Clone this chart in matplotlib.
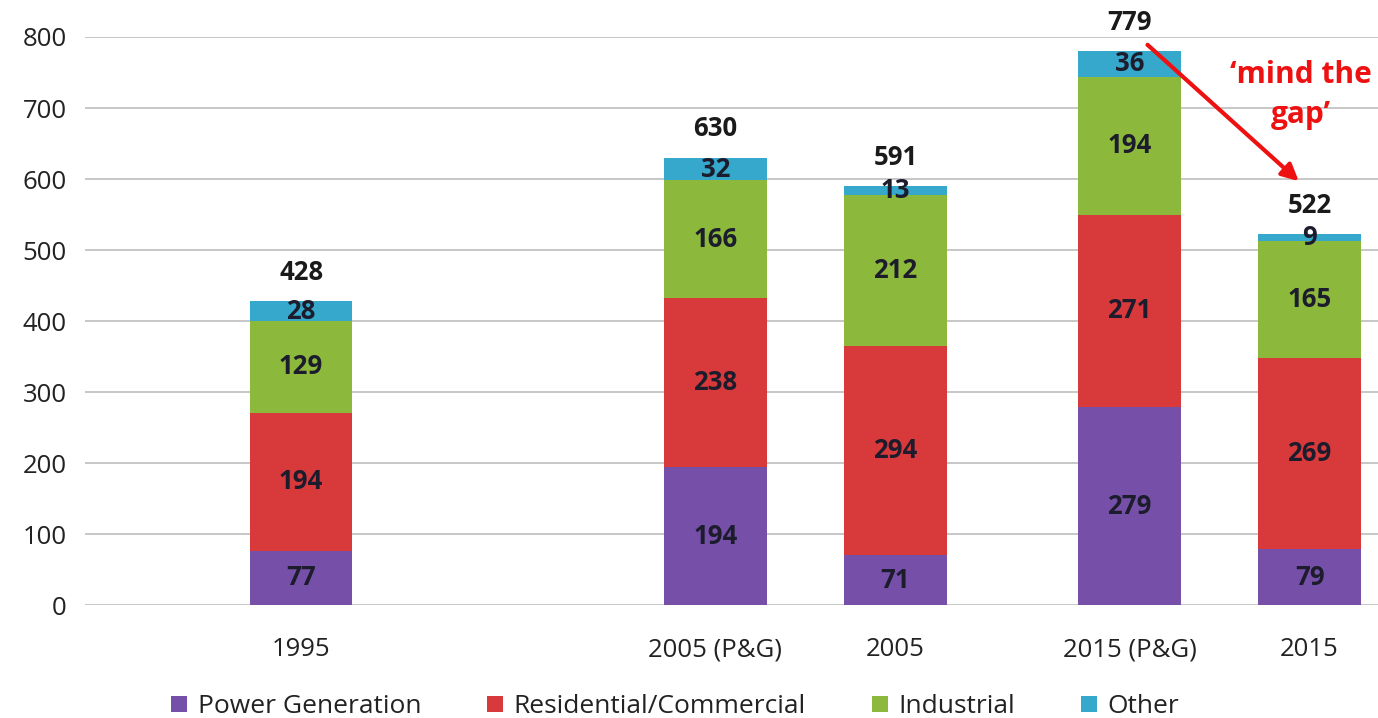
import numpy as np
import matplotlib
matplotlib.use("Agg")
import matplotlib.pyplot as plt

# -----------------------
# Data
# -----------------------
categories = ["1995", "2005 (P&G)", "2005", "2015 (P&G)", "2015"]
positions = [0.0, 2.3, 3.3, 4.6, 5.6]

power = [77, 194, 71, 279, 79]
residential = [194, 238, 294, 271, 269]
industrial = [129, 166, 212, 194, 165]
other = [28, 32, 13, 36, 9]
totals = [428, 630, 591, 779, 522]

series_names = ["Power Generation", "Residential/Commercial", "Industrial", "Other"]
series_colors = ["#7650a8", "#d83a3c", "#8cb83c", "#35a8cc"]
yticks = [0, 100, 200, 300, 400, 500, 600, 700, 800]

plt.rcParams['font.family'] = ['Open Sans', 'DejaVu Sans']

fig = plt.figure(figsize=(13.78, 7.18), dpi=100)
ax = fig.add_axes([0.0617, 0.157, 0.9383, 0.7915])

width = 0.57
bottom = np.zeros(len(categories))
for name, vals, col in zip(series_names, [power, residential, industrial, other], series_colors):
    vals = np.array(vals, dtype=float)
    ax.bar(positions, vals, width, bottom=bottom, color=col, label=name, zorder=3)
    for x, b, v in zip(positions, bottom, vals):
        ax.text(x, b + v / 2, f"{int(v)}", ha="center", va="center",
                fontsize=18.5, fontweight="bold", color="#1c1c2c", zorder=4)
    bottom += vals

# totals above bars
for x, b, t in zip(positions, bottom, totals):
    ax.annotate(f"{t}", (x, b), xytext=(0, 11), textcoords="offset points",
                ha="center", va="bottom", fontsize=18.5, fontweight="bold",
                color="#1a1a1a", annotation_clip=False)

# 'mind the gap' arrow
ax.annotate("", xy=(positions[4] - 0.06, totals[4] + 75),
            xytext=(positions[3] + 0.1, totals[3] + 10),
            arrowprops=dict(arrowstyle="-|>", color="#ee1111", lw=3,
                            mutation_scale=25, shrinkA=0, shrinkB=0),
            annotation_clip=False, zorder=5)
ax.text(positions[4] - 0.05, 718, "\u2018mind the\ngap\u2019", ha="center", va="center",
        fontsize=21.5, fontweight="bold", color="#ee1111", linespacing=1.45)

ax.set_xlim(-1.2, 5.98)
ax.set_ylim(0, 800)
ax.set_yticks(yticks)
ax.set_xticks(positions)
ax.set_xticklabels(categories)
ax.tick_params(axis="both", length=0, labelsize=18.5, colors="#222222")
ax.tick_params(axis="x", pad=23)
ax.tick_params(axis="y", pad=13)
ax.grid(axis="y", color="#bdbdbd", lw=1.2, zorder=0)
for s in ["top", "right", "left", "bottom"]:
    ax.spines[s].set_visible(False)

leg = fig.legend(loc="lower center", bbox_to_anchor=(0.49, -0.035), ncol=4,
                 frameon=False, fontsize=19, handlelength=0.6, handleheight=0.6,
                 columnspacing=2.5, handletextpad=0.4)
for t in leg.get_texts():
    t.set_color("#222222")

fig.savefig("out.png", dpi=100)
